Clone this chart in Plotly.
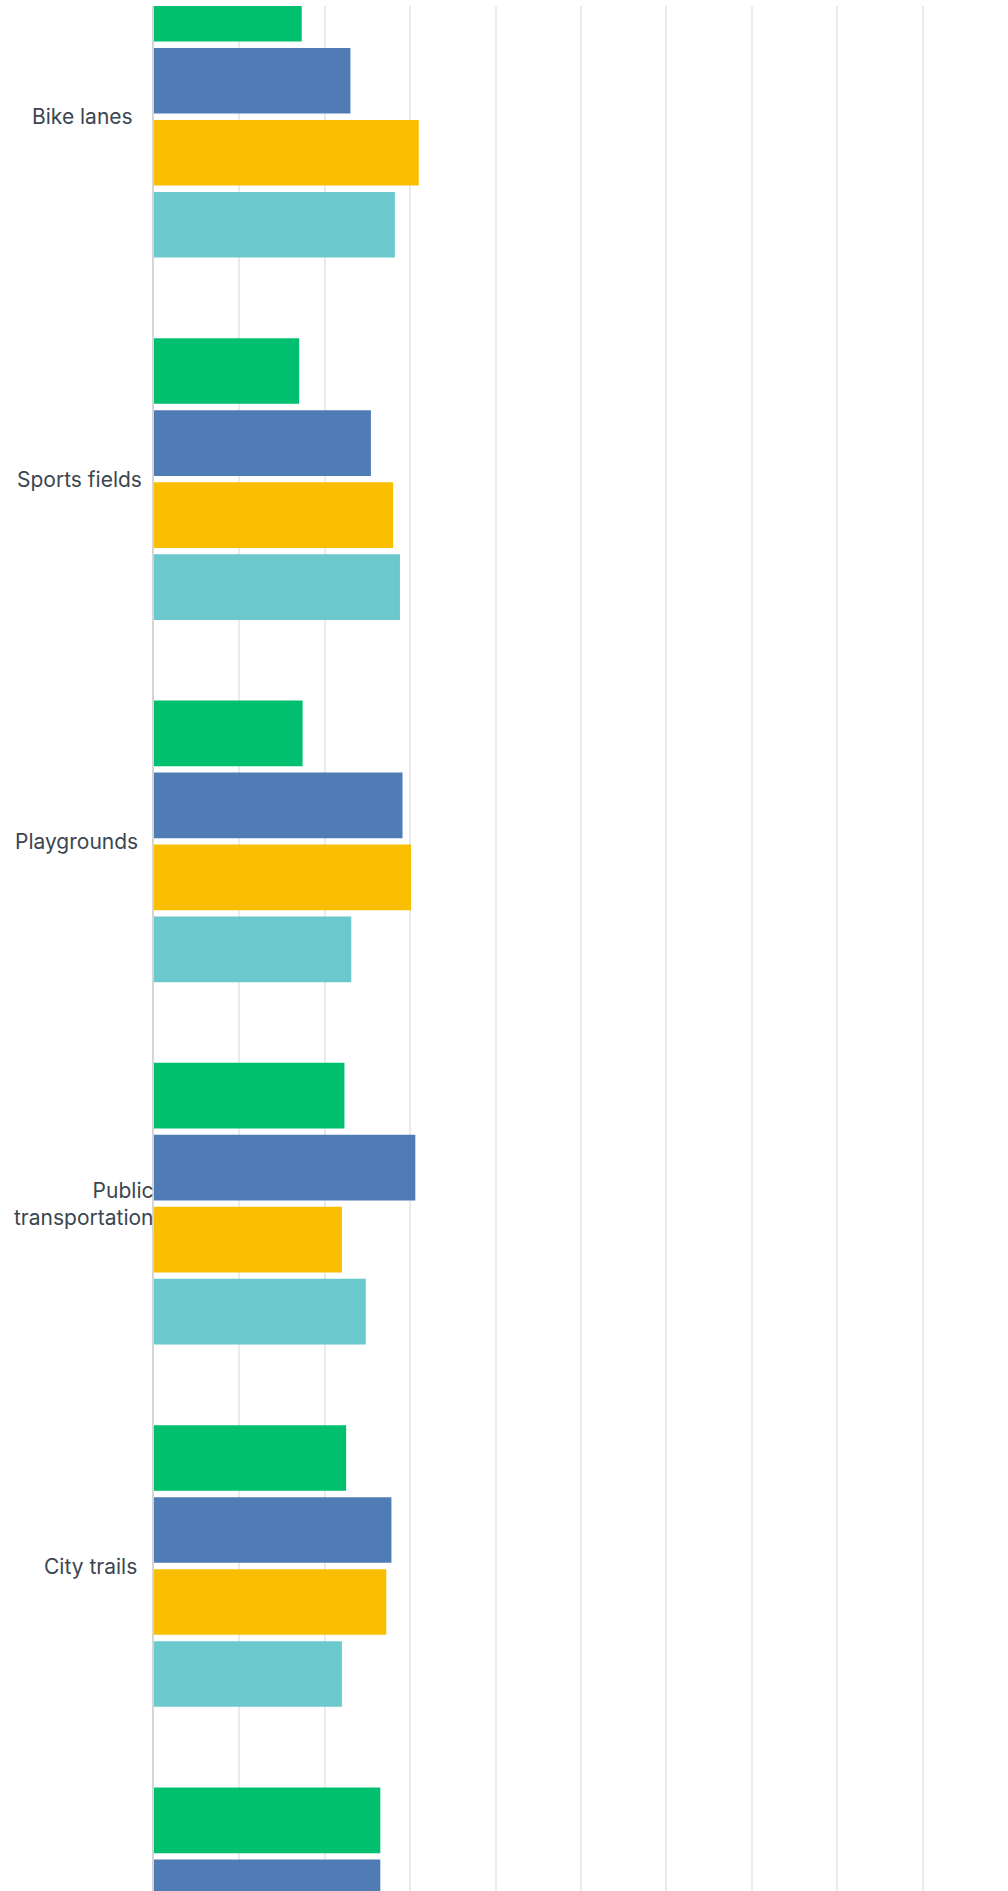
import plotly.graph_objects as go

categories = ["Bike lanes", "Sports fields", "Playgrounds", "Public transportation", "City trails", "Parks"]
label_text = ["Bike lanes", "Sports fields", "Playgrounds", "Public<br>transportation", "City trails", "Parks"]

series_names = ["Series 1", "Series 2", "Series 3", "Series 4"]
green_vals = [17.3, 17.0, 17.4, 22.3, 22.5, 26.5]
blue_vals = [23.0, 25.4, 29.1, 30.6, 27.8, 26.5]
yellow_vals = [31.0, 28.0, 30.1, 22.0, 27.2, None]
teal_vals = [28.2, 28.8, 23.1, 24.8, 22.0, None]

colors = ["#00bf6f", "#507cb6", "#f9be00", "#6bc8cd"]
all_vals = [green_vals, blue_vals, yellow_vals, teal_vals]

# right edge (px from left of page) of each category label
label_right = [135, 144, 140, 155, 139, 139]

W, H = 1008, 1891
ML, MT = 154, 6

fig = go.Figure()
for name, vals, c in zip(series_names, all_vals, colors):
    fig.add_trace(go.Bar(
        y=categories, x=vals, name=name, orientation="h",
        marker=dict(color=c, line=dict(width=0)),
        hoverinfo="skip",
    ))

y_top, y_bottom = -0.3056, 4.897

annotations = []
for i, (txt, r) in enumerate(zip(label_text, label_right)):
    if y_top <= i <= y_bottom:
        annotations.append(dict(
            x=0, xref="paper", y=categories[i], yref="y",
            text=txt, showarrow=False, xanchor="right", yanchor="middle",
            align="right", xshift=r - ML,
            font=dict(family="Inter", size=21, color="#3b4650"),
        ))

fig.update_layout(
    width=W, height=H,
    margin=dict(l=ML, r=0, t=MT, b=0, pad=0),
    paper_bgcolor="white", plot_bgcolor="white",
    barmode="group", bargap=0.205, bargroupgap=0.088,
    showlegend=False,
    annotations=annotations,
    xaxis=dict(range=[0, 100], dtick=10, showgrid=True, gridcolor="#ebebeb",
               gridwidth=1.5, zeroline=False, showticklabels=False, showline=False,
               fixedrange=True),
    yaxis=dict(type="category", categoryorder="array", categoryarray=categories,
               range=[y_bottom, y_top], showgrid=False, showticklabels=False,
               showline=True, linecolor="#d5d5d5", linewidth=2, zeroline=False,
               fixedrange=True),
)

fig.write_html("out.html", config={"displayModeBar": False})
